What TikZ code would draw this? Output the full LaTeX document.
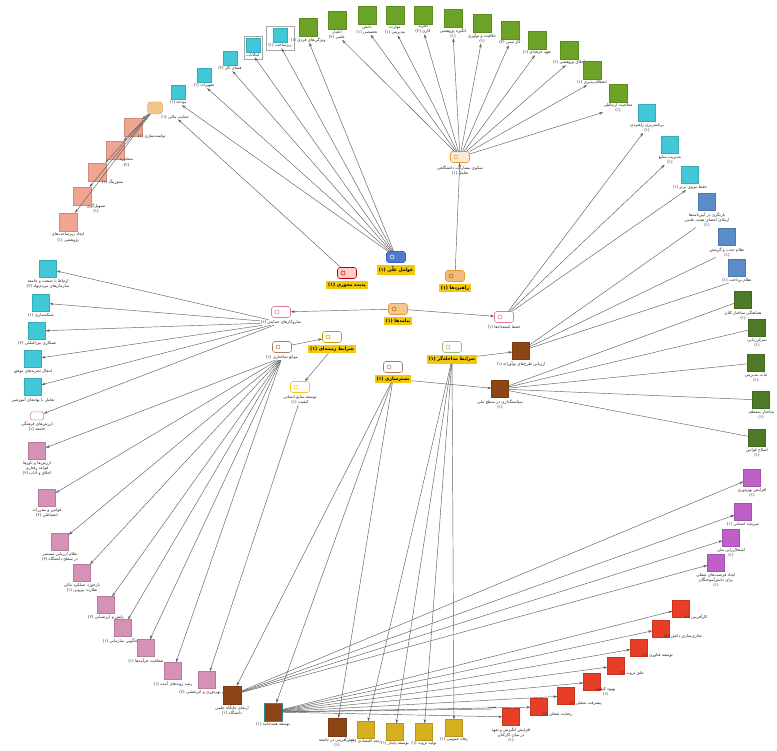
\documentclass[tikz,border=0pt]{standalone}
\usepackage{fontspec}
\newfontfamily\fa[Script=Arabic]{DejaVu Sans}
\TeXXeTstate=1
\usetikzlibrary{arrows.meta,positioning,fit}
\newcommand\fl[1]{\beginR #1\endR}
\definecolor{cgreen}{RGB}{108,163,38}
\definecolor{ccyan}{RGB}{64,200,214}
\definecolor{cblue}{RGB}{92,140,200}
\definecolor{cdgreen}{RGB}{78,122,40}
\definecolor{csalmon}{RGB}{240,165,145}
\definecolor{cpink}{RGB}{214,146,182}
\definecolor{cpurple}{RGB}{190,96,200}
\definecolor{cred}{RGB}{232,62,40}
\definecolor{cbrown}{RGB}{140,70,22}
\definecolor{cgold}{RGB}{214,176,30}
\definecolor{cyel}{RGB}{242,200,10}
\definecolor{corange}{RGB}{235,150,50}
\definecolor{ctagpink}{RGB}{225,120,160}
\definecolor{ctagblue}{RGB}{50,100,190}
\definecolor{cedge}{RGB}{95,95,95}
\tikzset{
  sq/.style={fill=#1, draw=#1!85!black, line width=0.3pt, minimum size=17pt, inner sep=0pt},
  lab/.style={font=\fa\fontsize{4.1}{5.1}\selectfont, align=center, inner sep=0.5pt, text=black!85},
  ylab/.style={fill=cyel, font=\fa\bfseries\fontsize{4.6}{5.6}\selectfont, inner sep=1.7pt, text=black},
  tagbox/.style n args={3}{draw=#1, fill=#2, rounded corners=2.5pt, minimum width=19pt,
    minimum height=11pt, inner sep=0pt, line width=0.6pt,
    path picture={\draw[#3, line width=0.5pt] ([xshift=5.5pt]path picture bounding box.west) circle (2pt);}},
  conn/.style={draw=cedge, line width=0.45pt, -{Stealth[length=4pt,width=2.6pt]}},
  plainconn/.style={draw=cedge, line width=0.45pt},
}
\begin{document}
\begin{tikzpicture}[x=1pt,y=-1pt]
\useasboundingbox (0,0) rectangle (777,751);
\fill[white] (0,0) rectangle (777,751);

% ---------- hubs ----------
\node[tagbox={corange}{corange!20}{corange}] (H1) at (460,157) {};
\node[lab, below=2pt of H1] (H1-l) {\fl{سکوی مشارکت دانشگاهی}\\\fl{تعامل (۱)}};
\node[tagbox={ctagblue}{ctagblue!85}{white}] (H2) at (396,257) {};
\node[ylab, below=2pt of H2] (H2-l) {\fl{عوامل علّی (۱)}};
\node[tagbox={red!75!black}{red!20}{red!75!black}] (H3) at (347,273) {};
\node[ylab, below=2pt of H3] (H3-l) {\fl{پدیده محوری (۱)}};
\node[tagbox={corange}{corange!65}{corange!70!black}] (H4) at (455,276) {};
\node[ylab, below=2pt of H4] (H4-l) {\fl{راهبردها (۱)}};
\node[tagbox={corange}{corange!55}{corange!70!black}] (H5) at (398,309) {};
\node[ylab, below=2pt of H5] (H5-l) {\fl{پیامدها (۱)}};
\node[tagbox={ctagpink}{white}{ctagpink}] (H6) at (281,312) {};
\node[lab, below=2pt of H6] (H6-l) {\fl{سازوکارهای حمایتی (۱)}};
\node[tagbox={ctagpink}{white}{ctagpink}] (H7) at (504,317) {};
\node[lab, below=2pt of H7] (H7-l) {\fl{حفظ استعدادها (۱)}};
\node[tagbox={cyel!80!black}{white}{cyel!80!black}] (H8) at (332,337) {};
\node[ylab, below=2pt of H8] (H8-l) {\fl{شرایط زمینه‌ای (۱)}};
\node[tagbox={cbrown!70}{white}{cbrown!70}] (H9) at (282,347) {};
\node[lab, below=2pt of H9] (H9-l) {\fl{موانع ساختاری (۱)}};
\node[tagbox={cgreen!70}{white}{cgreen!70}] (H10) at (452,347) {};
\node[ylab, below=2pt of H10] (H10-l) {\fl{شرایط مداخله‌گر (۱)}};
\node[tagbox={cbrown!70}{white}{cbrown!70}] (H11) at (393,367) {};
\node[ylab, below=2pt of H11] (H11-l) {\fl{بسترسازی (۱)}};
\node[tagbox={cyel}{white}{cyel}] (H12) at (300,387) {};
\node[lab, below=2pt of H12] (H12-l) {\fl{توسعه منابع انسانی}\\\fl{کیفیت (۱)}};

\node[sq=cbrown] (B1) at (521,351) {};
\node[lab, anchor=north] (B1-l) at ([yshift=-1pt]B1.south) {\fl{ارزیابی طرح‌های نوآورانه (۱)}};
\node[sq=cbrown] (B2) at (500,389) {};
\node[lab, anchor=north] (B2-l) at ([yshift=-1pt]B2.south) {\fl{سیاستگذاری در سطح ملی}\\\fl{(۱)}};

% ---------- top greens ----------
\foreach \n/\x/\y/\t in {
  g1/308/27/{\fl{ویژگی‌های فردی (۱)}},
  g2/337/20/{\fl{اعتبار}\\\fl{علمی (۲)}},
  g3/367/15/{\fl{دانش}\\\fl{تخصصی (۱)}},
  g4/395/15/{\fl{مهارت}\\\fl{مدیریتی (۱)}},
  g5/423/15/{\fl{تجربه}\\\fl{کاری (۲)}},
  g6/453/18/{\fl{انگیزه پژوهشی}\\\fl{(۱)}},
  g7/482/23/{\fl{خلاقیت و نوآوری}\\\fl{(۱)}},
  g8/510/30/{\fl{کار تیمی (۲)}},
  g9/537/40/{\fl{تعهد حرفه‌ای (۱)}},
  g10/569/50/{\fl{اخلاق پژوهشی (۱)}},
  g11/592/70/{\fl{انعطاف‌پذیری (۱)}},
  g12/618/93/{\fl{صلاحیت ارتباطی}\\\fl{(۱)}}}
{\node[sq=cgreen, minimum size=18pt] (\n) at (\x,\y) {};
 \node[lab, anchor=north] (\n-l) at ([yshift=-0.5pt]\n.south) {\t};}

% ---------- top-left cyan ----------
\foreach \n/\x/\y/\t in {
  c1/178/92/{\fl{بودجه (۱)}},
  c2/204/75/{\fl{تجهیزات (۱)}},
  c3/230/58/{\fl{فضای کار (۲)}},
  c4/253/45/{\fl{امکانات}},
  c5/280/35/{\fl{زیرساخت (۱)}}}
{\node[sq=ccyan, minimum size=14pt] (\n) at (\x,\y) {};
 \node[lab, anchor=north] (\n-l) at ([yshift=-0.5pt]\n.south) {\t};}
\node[draw=black!35, line width=0.3pt, inner sep=1.5pt, fit=(c4)(c4-l)] (c4-box) {};
\node[draw=black!35, line width=0.3pt, inner sep=1.5pt, fit=(c5)(c5-l)] (c5-box) {};

% ---------- orange + salmon ----------
\node[draw=corange, fill=corange!55, rounded corners=3pt, minimum width=15pt, minimum height=12pt, inner sep=0pt] (O) at (155,108) {};
\node[lab, anchor=north west] (O-l) at ([xshift=-2pt]O.south east) {\fl{حمایت مالی (۱)}};
\foreach \n/\x/\y/\t in {
  s1/133/127/{\fl{توانمندسازی (۱)}},
  s2/115/150/{\fl{مشاوره}\\\fl{(۲)}},
  s3/97/172/{\fl{منتورینگ (۱)}},
  s4/82/196/{\fl{تسهیل‌گری}\\\fl{(۱)}}}
{\node[sq=csalmon, minimum size=18pt] (\n) at (\x,\y) {};
 \node[lab, anchor=north west] (\n-l) at ([xshift=-5pt,yshift=2pt]\n.south east) {\t};}
\node[sq=csalmon, minimum size=18pt] (s5) at (68,222) {};
\node[lab, anchor=north] (s5-l) at ([yshift=-1pt]s5.south) {\fl{ایجاد زیرساخت‌های}\\\fl{پژوهشی (۱)}};

% ---------- left cyan ----------
\foreach \n/\x/\y/\t in {
  L1/48/269/{\fl{ارتباط با صنعت و جامعه}\\\fl{سازمان‌های مردم‌نهاد (۲)}},
  L2/41/303/{\fl{شبکه‌سازی (۱)}},
  L3/37/331/{\fl{همکاری بین‌المللی (۲)}},
  L4/33/359/{\fl{انتقال تجربه‌های موفق}},
  L5/33/387/{\fl{تعامل با نهادهای آموزشی}}}
{\node[sq=ccyan] (\n) at (\x,\y) {};
 \node[lab, anchor=north] (\n-l) at ([yshift=-1pt]\n.south) {\t};}
\node[draw=ctagpink, fill=white, rounded corners=1.5pt, minimum width=13pt, minimum height=8pt, inner sep=0pt, line width=0.5pt] (PT) at (37,416) {};
\node[lab, anchor=north] (PT-l) at ([yshift=-1pt]PT.south) {\fl{ارزش‌های فرهنگی}\\\fl{جامعه (۱)}};

% ---------- pink ----------
\foreach \n/\x/\y/\t in {
  p1/37/451/{\fl{ارزش‌ها و باورها}\\\fl{قواعد رفتاری}\\\fl{اخلاق و آداب (۲)}},
  p2/47/498/{\fl{قوانین و مقررات}\\\fl{انضباطی (۲)}},
  p3/60/542/{\fl{نظام ارزیابی مستمر}\\\fl{در سطح دانشگاه (۲)}},
  p4/82/573/{\fl{بازخورد عملکرد مالی}\\\fl{نظارت بیرونی (۱)}},
  p5/106/605/{\fl{پایش و ارزشیابی (۲)}},
  p6/123/628/{\fl{پاسخگویی سازمانی (۱)}},
  p7/146/648/{\fl{شفافیت فرآیندها (۱)}},
  p8/173/671/{\fl{رصد روندهای آینده (۱)}},
  p9/207/680/{\fl{سنجش بهره‌وری و اثربخشی (۲)}}}
{\node[sq=cpink] (\n) at (\x,\y) {};
 \node[lab, anchor=north] (\n-l) at ([yshift=-1pt]\n.south) {\t};}

% ---------- bottom brown / gold ----------
\node[sq=cbrown, minimum size=18pt] (br1) at (232,695) {};
\node[lab, anchor=north] (br1-l) at ([yshift=-1pt]br1.south) {\fl{ارتقای جایگاه علمی}\\\fl{دانشگاه (۱)}};
\node[sq=cbrown, draw=ccyan!70!black, minimum size=18pt] (br2) at (273,712) {};
\node[lab, anchor=north] (br2-l) at ([yshift=-1pt]br2.south) {\fl{توسعه همه‌جانبه (۱)}};
\node[sq=cbrown, minimum size=18pt] (br3) at (337,727) {};
\node[lab, anchor=north] (br3-l) at ([yshift=-1pt]br3.south) {\fl{نقش‌آفرینی در جامعه}\\\fl{(۱)}};
\foreach \n/\x/\y/\t in {
  y1/366/730/{\fl{رشد اقتصادی (۱)}},
  y2/395/732/{\fl{توسعه پایدار (۱)}},
  y3/424/732/{\fl{تولید ثروت (۱)}},
  y4/454/728/{\fl{رفاه عمومی (۱)}}}
{\node[sq=cgold] (\n) at (\x,\y) {};
 \node[lab, anchor=north] (\n-l) at ([yshift=-0.5pt]\n.south) {\t};}

% ---------- red ----------
\foreach \n/\x/\y/\t in {
  r2/539/707/{\fl{رضایت شغلی (۱)}},
  r3/566/696/{\fl{پیشرفت شغلی (۱)}},
  r4/592/682/{\fl{بهبود کیفیت}\\\fl{(۱)}},
  r5/616/666/{\fl{خلق ثروت (۱)}},
  r6/639/648/{\fl{توسعه فناوری (۱)}},
  r7/661/629/{\fl{تجاری‌سازی دانش (۱)}},
  r8/681/609/{\fl{کارآفرینی (۱)}}}
{\node[sq=cred] (\n) at (\x,\y) {};
 \node[lab, anchor=north west] (\n-l) at ([xshift=-6pt,yshift=4pt]\n.south east) {\t};}
\node[sq=cred] (r1) at (511,717) {};
\node[lab, anchor=north] (r1-l) at ([yshift=-1pt]r1.south) {\fl{افزایش انگیزش و تعهد}\\\fl{در میان کارکنان}\\\fl{(۱)}};

% ---------- purple ----------
\foreach \n/\x/\y/\t in {
  u1/716/563/{\fl{ایجاد فرصت‌های شغلی}\\\fl{برای دانش‌آموختگان}\\\fl{(۱)}},
  u2/731/538/{\fl{اشتغال‌زایی ملی}\\\fl{(۱)}},
  u3/743/512/{\fl{سرمایه انسانی (۱)}},
  u4/752/478/{\fl{افزایش بهره‌وری}\\\fl{(۱)}}}
{\node[sq=cpurple] (\n) at (\x,\y) {};
 \node[lab, anchor=north] (\n-l) at ([yshift=-1pt]\n.south) {\t};}

% ---------- dark green ----------
\foreach \n/\x/\y/\t in {
  d1/743/300/{\fl{هماهنگی ساختار کلان}\\\fl{(۱)}},
  d2/757/328/{\fl{تمرکززدایی}\\\fl{(۱)}},
  d3/756/363/{\fl{ثبات مدیریتی}\\\fl{(۱)}},
  d4/761/400/{\fl{ساختار منعطف}\\\fl{(۱)}},
  d5/757/438/{\fl{اصلاح قوانین}\\\fl{(۱)}}}
{\node[sq=cdgreen] (\n) at (\x,\y) {};
 \node[lab, anchor=north] (\n-l) at ([yshift=-1pt]\n.south) {\t};}

% ---------- blue & right cyan ----------
\foreach \n/\x/\y/\t in {
  b1/707/202/{\fl{بازنگری در آیین‌نامه‌ها}\\\fl{ارتقای اعضای هیئت علمی}\\\fl{(۱)}},
  b2/727/237/{\fl{نظام جذب و گزینش}\\\fl{(۱)}},
  b3/737/268/{\fl{نظام پرداخت (۱)}}}
{\node[sq=cblue] (\n) at (\x,\y) {};
 \node[lab, anchor=north] (\n-l) at ([yshift=-1pt]\n.south) {\t};}
\foreach \n/\x/\y/\t in {
  c6/647/113/{\fl{برنامه‌ریزی راهبردی}\\\fl{(۱)}},
  c7/670/145/{\fl{مدیریت منابع}\\\fl{(۱)}},
  c8/690/175/{\fl{حفظ نیروی برتر (۱)}}}
{\node[sq=ccyan] (\n) at (\x,\y) {};
 \node[lab, anchor=north] (\n-l) at ([yshift=-1pt]\n.south) {\t};}

% ---------- connectors ----------
\draw[conn] (H4) -- (H1);
\foreach \i in {2,...,12} \draw[conn] (H1) -- (g\i-l);
\foreach \i in {1,...,5} \draw[conn] (H2) -- (c\i-l);
\draw[conn] (H2) -- (g1-l);
\draw[conn] (H3) -- (O-l);
\foreach \i in {1,...,5} \draw[conn] (O) -- (s\i);
\draw[conn] (H5) -- (H6);
\draw[conn] (H5) -- (H7);
\foreach \i in {1,...,5} \draw[conn] (H6-l) -- (L\i);
\draw[conn] (H6-l) -- (PT);
\foreach \i in {1,...,8} \draw[conn] (H9-l) -- (p\i);
\draw[conn] (H12-l) -- (p9);
\draw[conn] (H8-l) -- (H12);
\draw[conn] (H9) -- (H8);
\draw[conn] (H10-l) -- (B1);
\draw[conn] (H11-l) -- (B2);
\foreach \i in {6,7,8} \draw[conn] (H7) -- (c\i-l);
\foreach \i in {1,2,3} \draw[plainconn] (B1) -- (b\i-l);
\foreach \i in {1,...,5} \draw[plainconn] (B2) -- (d\i);
\foreach \i in {1,...,4} \draw[conn] (H10-l) -- (y\i);
\draw[conn] (H11-l) -- (br1);
\draw[conn] (H11-l) -- (br2);
\draw[conn] (H11-l) -- (br3);
\foreach \i in {1,...,4} \draw[conn] (br1) -- (u\i);
\foreach \i in {1,...,8} \draw[conn] (br2) -- (r\i);
\coordinate (tend) at (492,709);
\draw[plainconn] (br2) -- (tend);
\node[lab, anchor=south] (tend-l) at (tend) {\fl{تست}};
\end{tikzpicture}
\end{document}
